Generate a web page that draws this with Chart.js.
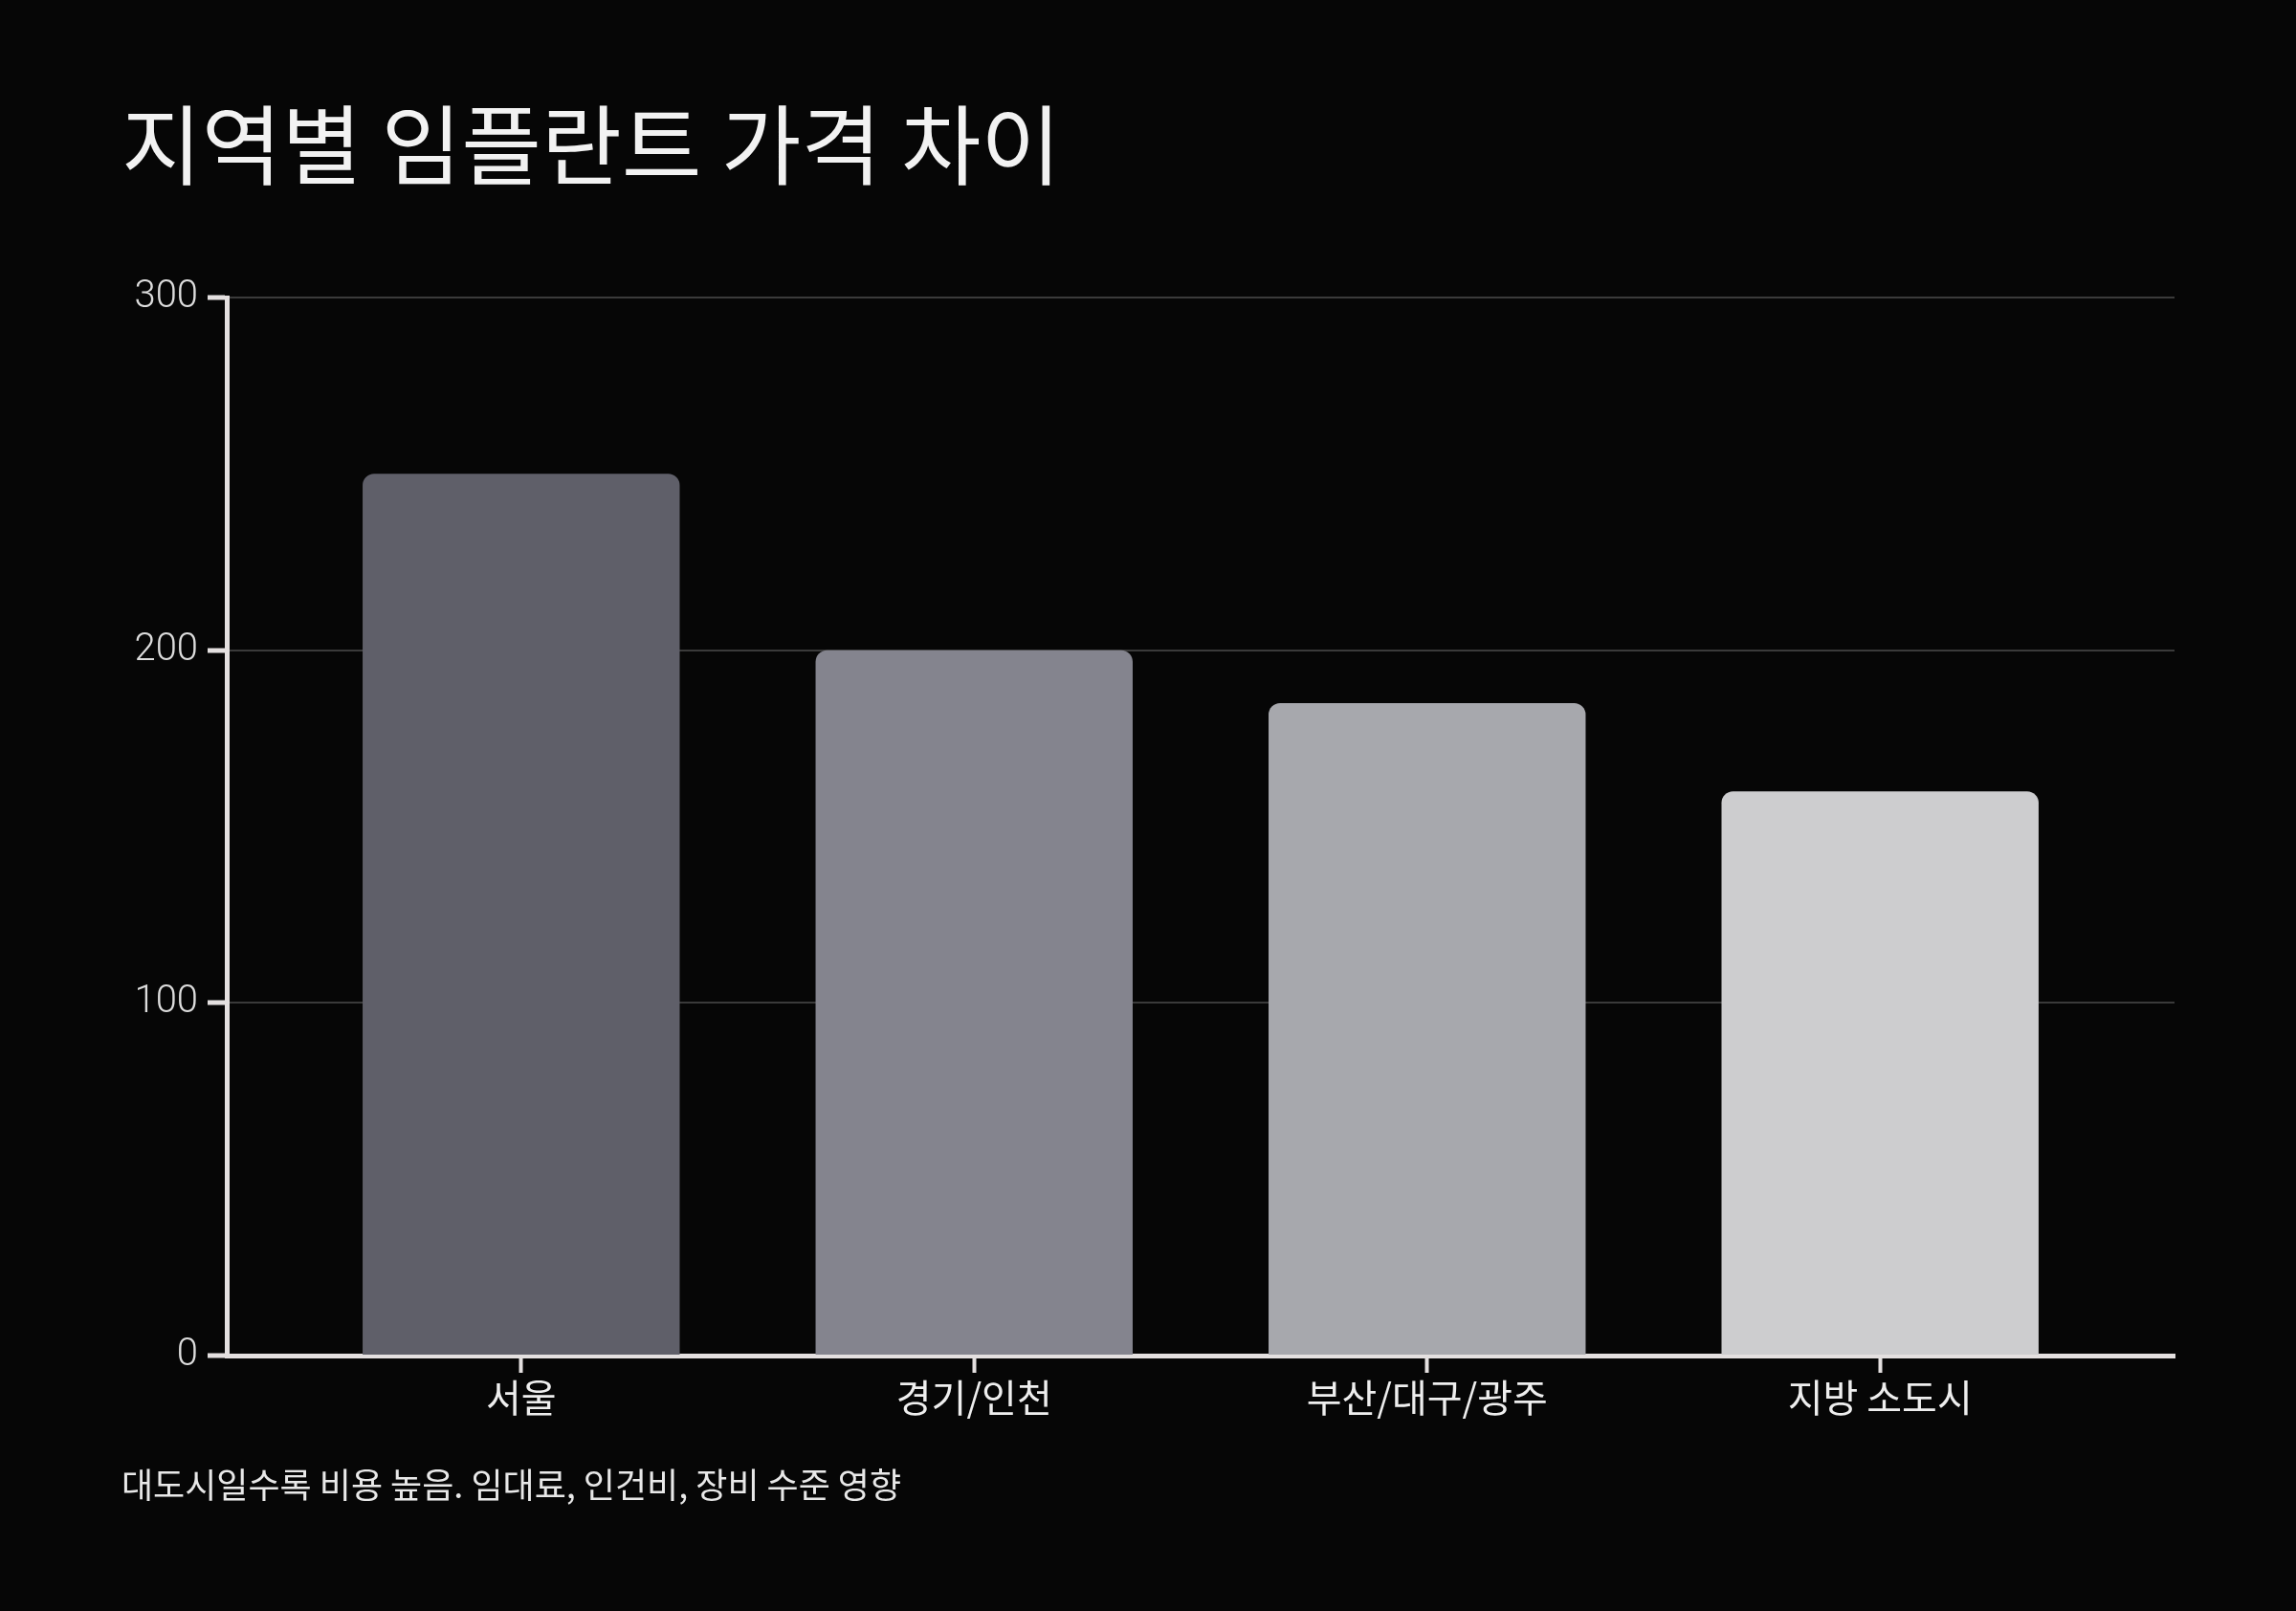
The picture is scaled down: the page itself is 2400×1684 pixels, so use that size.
<!DOCTYPE html>
<html>
<head>
<meta charset="utf-8">
<script src="https://cdn.jsdelivr.net/npm/chart.js@4"></script>
<style>
	body { margin: 0; background: #060606; width: 2400px; height: 1684px; overflow: hidden; position: relative; }
	#title { position: absolute; left: 127px; top: 96px; font: 400 91px 'Noto Sans CJK KR'; color: #f2f2f2; line-height: 1.1; }
	#note { position: absolute; left: 127px; top: 1529px; font: 400 36px 'Noto Sans CJK KR'; color: #e8e8e8; line-height: 1.2; }
	#chart { position: absolute; left: 0; top: 0; }
</style>
</head>
<body>
<div id="title">지역별 임플란트 가격 차이</div>
<canvas id="chart" width="2400" height="1684"></canvas>
<div id="note">대도시일수록 비용 높음. 임대료, 인건비, 장비 수준 영향</div>
<script>
	var regions = ['서울', '경기/인천', '부산/대구/광주', '지방 소도시'];
	var prices = [250, 200, 185, 160];
	var barColors = ['#5f5f69', '#84848e', '#a7a8ad', '#cdcdcf'];
	var yTicks = [0, 100, 200, 300];

	var axisColor = '#e4e0e0';

	var points = [];
	for (var i = 0; i < regions.length; i++) {
		points.push({ x: i, y: prices[i] });
	}

	var ctx = document.getElementById('chart');
	var chart = new Chart(ctx, {
		type: 'bar',
		data: {
			datasets: [{
				label: '가격',
				data: points,
				backgroundColor: barColors,
				borderRadius: 12,
				borderSkipped: 'start',
				barPercentage: 0.7,
				categoryPercentage: 1
			}]
		},
		options: {
			responsive: false,
			devicePixelRatio: 1,
			animation: false,
			layout: { padding: { left: 0, top: 311, right: 127, bottom: 0 } },
			plugins: {
				legend: { display: false },
				tooltip: { enabled: false }
			},
			scales: {
				x: {
					type: 'linear',
					min: -0.65,
					max: 3.65,
					offset: false,
					z: 1,
					afterBuildTicks: function(scale) {
						scale.ticks = regions.map(function(r, i) { return { value: i }; });
					},
					afterFit: function(scale) { scale.height = 1684 - 1417; },
					border: { color: axisColor, width: 5 },
					grid: { offset: false, drawOnChartArea: false, drawTicks: true, tickLength: 18, tickColor: axisColor, tickWidth: 4 },
					ticks: {
						color: '#eeeeee',
						padding: 2,
						font: { family: "'Noto Sans CJK KR'", size: 40 },
						callback: function(value) { return regions[value] || ''; }
					}
				},
				y: {
					min: 0,
					max: 300,
					afterBuildTicks: function(scale) {
						scale.ticks = yTicks.map(function(v) { return { value: v }; });
					},
					afterFit: function(scale) { scale.width = 237; },
					border: { color: axisColor, width: 5 },
					grid: { color: '#3a3a3a', lineWidth: 2, tickLength: 20, tickColor: axisColor, tickWidth: 5 },
					ticks: {
						color: '#dddddd',
						padding: 10,
						font: { family: 'Roboto', size: 40, weight: '300' }
					}
				}
			}
		}
	});
</script>
</body>
</html>
